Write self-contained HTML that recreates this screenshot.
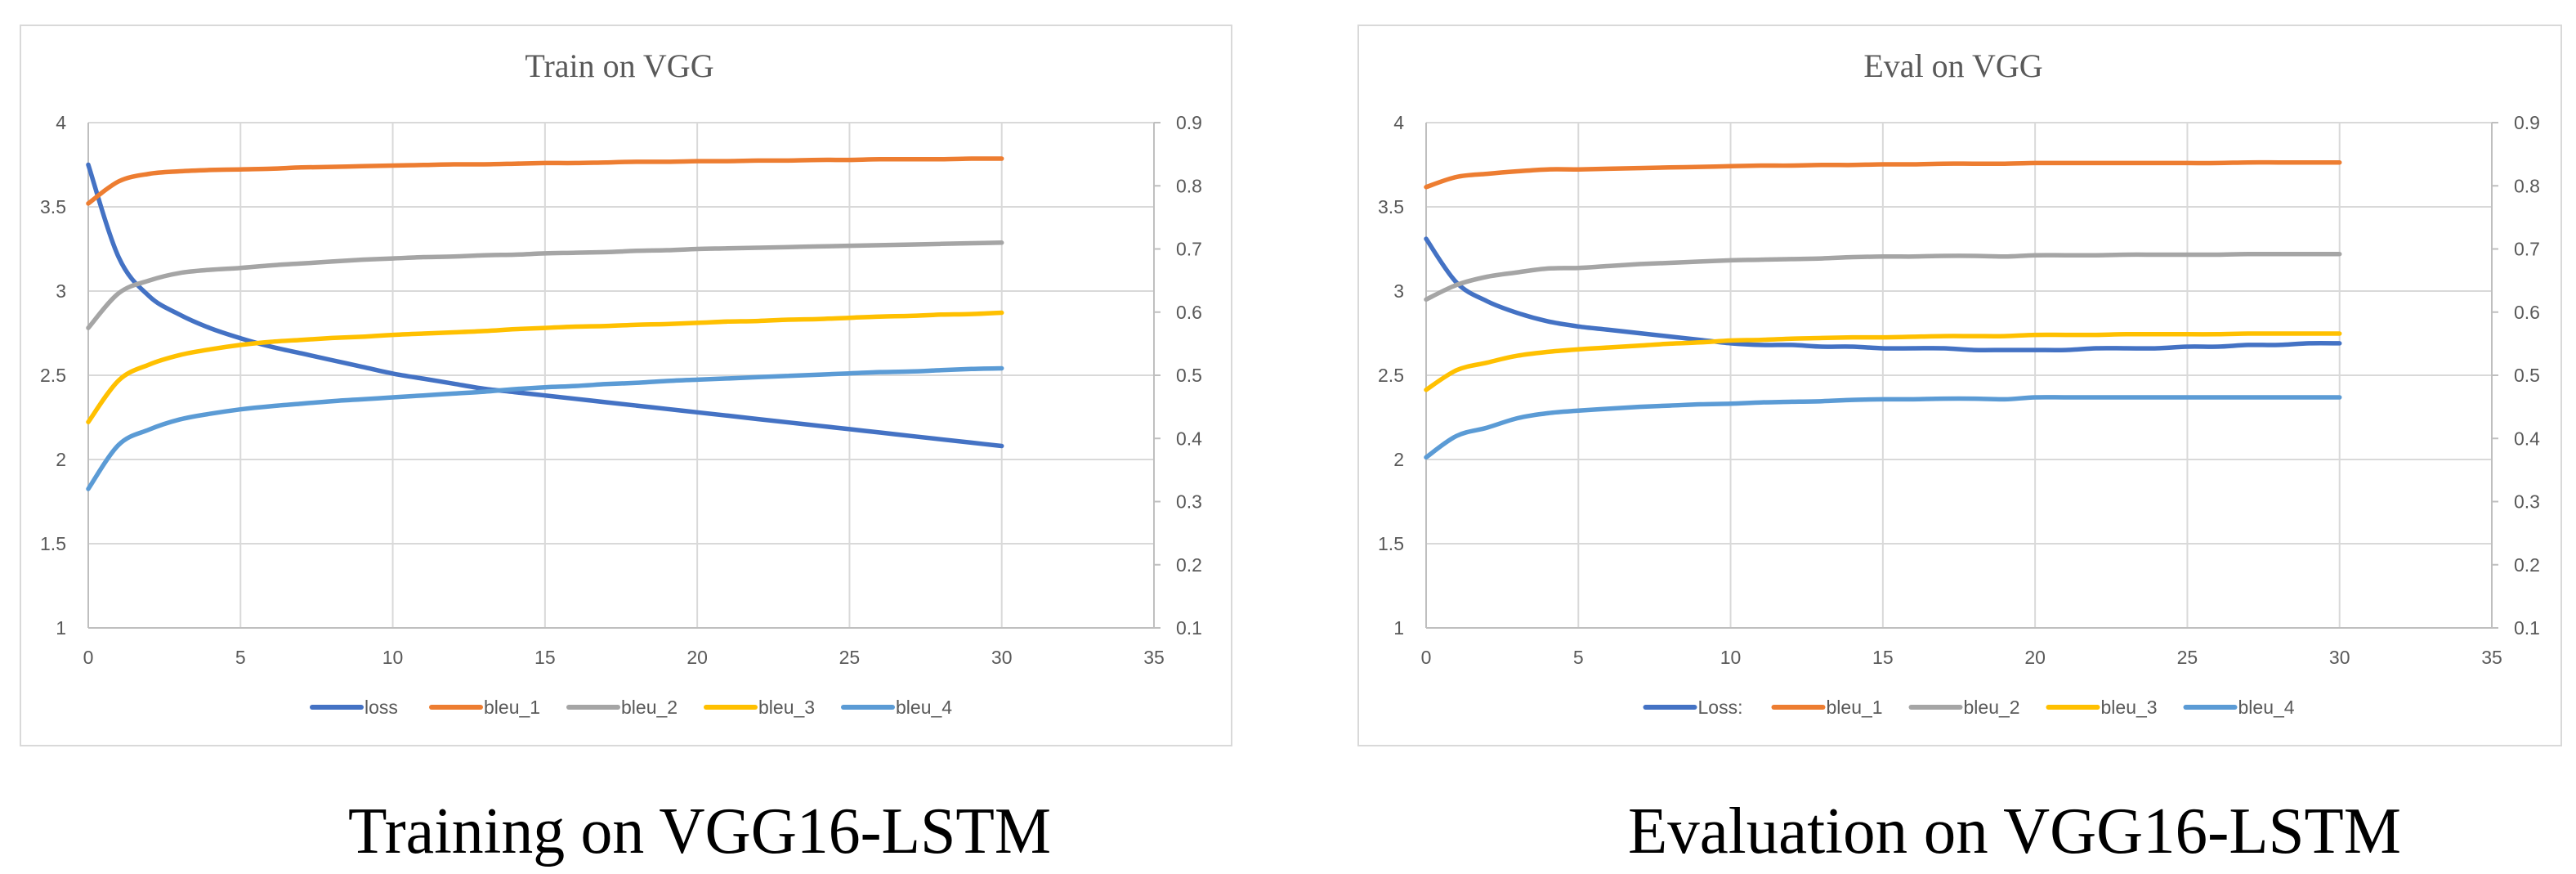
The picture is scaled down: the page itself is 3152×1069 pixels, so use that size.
<!DOCTYPE html>
<html><head><meta charset="utf-8">
<style>
html,body{margin:0;padding:0;background:#fff;}
svg{display:block;}
</style></head>
<body>
<svg id="root" width="3152" height="1069" viewBox="0 0 3152 1069" xmlns="http://www.w3.org/2000/svg"></svg>
<script>
// ---- data ----
const epochs = [0,1,2,3,4,5,6,7,8,9,10,11,12,13,14,15,16,17,18,19,20,21,22,23,24,25,26,27,28,29,30];
const xTicks = [0,5,10,15,20,25,30,35];
const yTicksLeft = [1,1.5,2,2.5,3,3.5,4];
const yTicksRight = [0.1,0.2,0.3,0.4,0.5,0.6,0.7,0.8,0.9];
const seriesNames = ["loss","bleu_1","bleu_2","bleu_3","bleu_4"];
const seriesNamesEval = ["Loss:","bleu_1","bleu_2","bleu_3","bleu_4"];

const trainLoss = [3.75,3.20,2.97,2.86,2.78,2.72,2.67,2.63,2.59,2.55,2.51,2.48,2.45,2.42,2.40,2.38,2.36,2.34,2.32,2.30,2.28,2.26,2.24,2.22,2.20,2.18,2.16,2.14,2.12,2.10,2.08];
const trainBleu1 = [0.772,0.807,0.819,0.823,0.825,0.826,0.827,0.829,0.830,0.831,0.832,0.833,0.834,0.834,0.835,0.836,0.836,0.837,0.838,0.838,0.839,0.839,0.840,0.840,0.841,0.841,0.842,0.842,0.842,0.843,0.843];
const trainBleu2 = [0.575,0.630,0.650,0.662,0.667,0.670,0.674,0.677,0.680,0.683,0.685,0.687,0.688,0.690,0.691,0.693,0.694,0.695,0.697,0.698,0.700,0.701,0.702,0.703,0.704,0.705,0.706,0.707,0.708,0.709,0.710];
const trainBleu3 = [0.426,0.492,0.517,0.532,0.541,0.548,0.553,0.556,0.559,0.561,0.564,0.566,0.568,0.570,0.573,0.575,0.577,0.578,0.580,0.581,0.583,0.585,0.586,0.588,0.589,0.591,0.593,0.594,0.596,0.597,0.599];
const trainBleu4 = [0.320,0.390,0.414,0.430,0.439,0.446,0.451,0.455,0.459,0.462,0.465,0.468,0.471,0.474,0.478,0.481,0.483,0.486,0.488,0.491,0.493,0.495,0.497,0.499,0.501,0.503,0.505,0.506,0.508,0.510,0.511];

const evalLoss = [3.31,3.05,2.94,2.87,2.82,2.79,2.77,2.75,2.73,2.71,2.69,2.68,2.68,2.67,2.67,2.66,2.66,2.66,2.65,2.65,2.65,2.65,2.66,2.66,2.66,2.67,2.67,2.68,2.68,2.69,2.69];
const evalBleu1 = [0.798,0.814,0.819,0.823,0.826,0.826,0.827,0.828,0.829,0.830,0.831,0.832,0.832,0.833,0.833,0.834,0.834,0.835,0.835,0.835,0.836,0.836,0.836,0.836,0.836,0.836,0.836,0.837,0.837,0.837,0.837];
const evalBleu2 = [0.620,0.643,0.656,0.663,0.669,0.670,0.673,0.676,0.678,0.680,0.682,0.683,0.684,0.685,0.687,0.688,0.688,0.689,0.689,0.688,0.690,0.690,0.690,0.691,0.691,0.691,0.691,0.692,0.692,0.692,0.692];
const evalBleu3 = [0.477,0.508,0.520,0.531,0.537,0.541,0.544,0.547,0.550,0.552,0.555,0.556,0.558,0.559,0.560,0.560,0.561,0.562,0.562,0.562,0.564,0.564,0.564,0.565,0.565,0.565,0.565,0.566,0.566,0.566,0.566];
const evalBleu4 = [0.370,0.404,0.417,0.432,0.440,0.444,0.447,0.450,0.452,0.454,0.455,0.457,0.458,0.459,0.461,0.462,0.462,0.463,0.463,0.462,0.465,0.465,0.465,0.465,0.465,0.465,0.465,0.465,0.465,0.465,0.465];

const colors = ["#4472C4","#ED7D31","#A5A5A5","#FFC000","#5B9BD5"];
const SANS = '"Liberation Sans", sans-serif';
const SERIF = '"Liberation Serif", serif';
const NS = "http://www.w3.org/2000/svg";
const root = document.getElementById('root');
function mk(tag, attrs, parent){const e=document.createElementNS(NS,tag);for(const k in attrs)e.setAttribute(k,attrs[k]);(parent||root).appendChild(e);return e;}
function smoothPath(pts){
  let d='M'+pts[0][0].toFixed(1)+','+pts[0][1].toFixed(1);
  for(let i=0;i<pts.length-1;i++){
    const p0=pts[Math.max(0,i-1)],p1=pts[i],p2=pts[i+1],p3=pts[Math.min(pts.length-1,i+2)];
    const c1=[p1[0]+(p2[0]-p0[0])/6,p1[1]+(p2[1]-p0[1])/6];
    const c2=[p2[0]-(p3[0]-p1[0])/6,p2[1]-(p3[1]-p1[1])/6];
    d+=' C'+c1[0].toFixed(1)+','+c1[1].toFixed(1)+' '+c2[0].toFixed(1)+','+c2[1].toFixed(1)+' '+p2[0].toFixed(1)+','+p2[1].toFixed(1);
  }
  return d;
}

function drawChart(ox, boxW, title, caption, capLen, names, series, prefix){
  const g = mk('g',{transform:'translate('+ox+',0)'});
  
  
  const box = mk('rect',{x:25,y:31,width:boxW,height:881,fill:'#fff',stroke:'#d9d9d9','stroke-width':2},g);
  
  
  const L=108,R=1412,T=150,B=768;
  const xs = v => L + (v-0)/(35-0)*(R-L);
  const yl = v => B - (v-1)/(4-1)*(B-T);
  const yr = v => B - (v-0.1)/(0.9-0.1)*(B-T);
  yTicksLeft.forEach(v=>{
    const ln = mk('line',{x1:L,x2:R,y1:yl(v),y2:yl(v),stroke:'#d9d9d9','stroke-width':2},g);
    
    
    const t = mk('text',{x:81,y:yl(v)+8,'text-anchor':'end','font-size':23,fill:'#595959'},g);
    t.style.fontFamily = SANS;
    t.textContent = v;
    
    
  });
  xTicks.forEach(v=>{
    if(v>0 && v<35){
      const ln = mk('line',{x1:xs(v),x2:xs(v),y1:T,y2:B,stroke:'#d9d9d9','stroke-width':2},g);
      
      
    }
    const t = mk('text',{x:xs(v),y:812,'text-anchor':'middle','font-size':23,fill:'#595959'},g);
    t.style.fontFamily = SANS;
    t.textContent = v;
    
    
  });
  yTicksRight.forEach(v=>{
    const tk = mk('line',{x1:R,x2:R+8,y1:yr(v),y2:yr(v),stroke:'#bfbfbf','stroke-width':2},g);
    
    
    const t = mk('text',{x:R+27,y:yr(v)+8,'text-anchor':'start','font-size':23,fill:'#595959'},g);
    t.style.fontFamily = SANS;
    t.textContent = v;
    
    
  });
  const ax1 = mk('line',{x1:L,x2:L,y1:T,y2:B,stroke:'#bfbfbf','stroke-width':2},g);
  
  
  const ax2 = mk('line',{x1:R,x2:R,y1:T,y2:B,stroke:'#bfbfbf','stroke-width':2},g);
  
  
  const ax3 = mk('line',{x1:L,x2:R+8,y1:B,y2:B,stroke:'#bfbfbf','stroke-width':2},g);
  
  
  series.forEach((vals,i)=>{
    const yf = i===0 ? yl : yr;
    const pts = vals.map((v,k)=>[xs(epochs[k]), yf(v)]);
    const p = mk('path',{d:smoothPath(pts),fill:'none',stroke:colors[i],'stroke-width':5.5,'stroke-linejoin':'round','stroke-linecap':'round'},g);
    
    
  });
  const tt = mk('text',{x:(25+25+boxW)/2-8,y:94,'text-anchor':'middle','font-size':40,fill:'#595959'},g);
  tt.style.fontFamily = SERIF;
  tt.textContent = title;
  
  
  const widths = names.map(n=>n.length*11+8);
  const sw = 66, gap = 28;
  const total = widths.reduce((a,w)=>a+sw+w,0)+gap*(names.length-1);
  let cx = (L+R)/2 + 14 - total/2;
  names.forEach((n,i)=>{
    const lg = mk('g',{},g);
    
    
    mk('line',{x1:cx+3,x2:cx+sw-3,y1:865,y2:865,stroke:colors[i],'stroke-width':6,'stroke-linecap':'round'},lg);
    const t = mk('text',{x:cx+sw+1,y:873,'font-size':23,fill:'#595959'},lg);
    t.style.fontFamily = SANS;
    t.textContent = n;
    cx += sw + widths[i] + gap;
  });
  const cap = mk('text',{x:(25+25+boxW)/2+(prefix==='train'?90:67),y:1043,'text-anchor':'middle','font-size':80,fill:'#000',textLength:capLen,lengthAdjust:'spacingAndGlyphs'},g);
  cap.style.fontFamily = SERIF;
  cap.textContent = caption;
  
  
}
drawChart(0,1482,"Train on VGG","Training on VGG16-LSTM",860,seriesNames,[trainLoss,trainBleu1,trainBleu2,trainBleu3,trainBleu4],'train');
drawChart(1637,1472,"Eval on VGG","Evaluation on VGG16-LSTM",946,seriesNamesEval,[evalLoss,evalBleu1,evalBleu2,evalBleu3,evalBleu4],'eval');
</script>
</body></html>
